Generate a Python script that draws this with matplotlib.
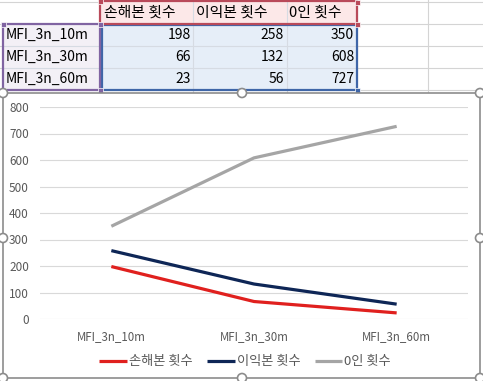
import matplotlib
matplotlib.use("Agg")
import matplotlib.pyplot as plt
from matplotlib.patches import Rectangle, Circle

plt.rcParams['font.family'] = ['Noto Sans CJK KR', 'DejaVu Sans']

# data
categories = ["MFI_3n_10m", "MFI_3n_30m", "MFI_3n_60m"]
series_names = ["손해본 횟수", "이익본 횟수", "0인 횟수"]
loss_counts = [198, 66, 23]
profit_counts = [258, 132, 56]
zero_counts = [350, 608, 727]
y_ticks = [0, 100, 200, 300, 400, 500, 600, 700, 800]

W, H = 483, 381
fig = plt.figure(figsize=(W / 100, H / 100), dpi=100)

# background: spreadsheet drawn in pixel coords
bg = fig.add_axes([0, 0, 1, 1], zorder=0)
bg.set_xlim(0, W)
bg.set_ylim(H, 0)
bg.axis("off")

col_x = [0, 100, 193, 287, 357, 428, W]
row_y = [2, 24, 46, 68, 90]
grid_c = "#d4d4d4"
for x in col_x[1:-1]:
    bg.plot([x, x], [0, 93], color=grid_c, lw=0.8, zorder=1)
for y in row_y:
    bg.plot([0, W], [y, y], color=grid_c, lw=0.8, zorder=1)

# cell fills
bg.add_patch(Rectangle((100, 2), 257, 22, facecolor="#fce8e8", edgecolor="none", zorder=2))
bg.add_patch(Rectangle((100, 24), 257, 66, facecolor="#e6eef8", edgecolor="none", zorder=2))
bg.add_patch(Rectangle((3, 24), 97, 66, facecolor="#f3f0f6", edgecolor="none", zorder=2))
for x in col_x[2:4]:
    bg.plot([x, x], [2, 90], color="#d6dbe3", lw=0.8, zorder=2.5)
for y in row_y[2:4]:
    bg.plot([3, 357], [y, y], color="#d6dbe3", lw=0.8, zorder=2.5)

# selection borders
bg.add_patch(Rectangle((100, 1), 257, 23, fill=False, edgecolor="#b94a5a", lw=1.6, zorder=4))
bg.add_patch(Rectangle((102, 25), 255, 65, fill=False, edgecolor="#3f66a8", lw=1.6, zorder=3))
bg.add_patch(Rectangle((3, 24), 97, 66, fill=False, edgecolor="#8064a2", lw=1.6, zorder=4))
for (x, y, c) in [(3, 24, "#8064a2"), (100, 24, "#8064a2"), (3, 90, "#8064a2"), (100, 90, "#8064a2"),
                  (100, 1, "#b94a5a"), (357, 2, "#b94a5a"), (357, 24, "#b94a5a"), (357, 90, "#3f66a8")]:
    bg.add_patch(Rectangle((x - 2.5, y - 2.5), 5, 5, facecolor=c, edgecolor="white", lw=0.5, zorder=5))

# cell texts
header_x = [104, 196, 289]
for name, x in zip(series_names, header_x):
    bg.text(x, 13, name, fontsize=10.7, ha="left", va="center", color="#000000", zorder=6)
row_centers = [35, 57, 79]
right_x = [191, 284, 354]
for i, cat in enumerate(categories):
    bg.text(6, row_centers[i], cat, fontsize=10, ha="left", va="center", color="#000000", zorder=6)
    for vals, x in zip([loss_counts, profit_counts, zero_counts], right_x):
        bg.text(x, row_centers[i], str(vals[i]), fontsize=10, ha="right", va="center", color="#000000", zorder=6)

# chart frame
bg.add_patch(Rectangle((3, 93), 477, 285, facecolor="white", edgecolor="#8c8c8c", lw=1.2, zorder=7))
for (x, y) in [(3, 93), (242, 93), (480, 93), (3, 238), (480, 238), (3, 378), (242, 378), (480, 378)]:
    bg.add_patch(Circle((x, y), 4.5, facecolor="white", edgecolor="#8c8c8c", lw=1.2, zorder=8))

# chart axes
left, right, top, bottom = 40, 468, 107, 319
ax = fig.add_axes([left / W, 1 - bottom / H, (right - left) / W, (bottom - top) / H], zorder=1)
ax.patch.set_alpha(0)
x = list(range(len(categories)))
ax.plot(x, loss_counts, color="#e0201e", lw=2.3, label=series_names[0], solid_capstyle="butt")
ax.plot(x, profit_counts, color="#0e2656", lw=2.3, label=series_names[1], solid_capstyle="butt")
ax.plot(x, zero_counts, color="#a5a5a5", lw=2.3, label=series_names[2], solid_capstyle="butt")
ax.set_xlim(-0.5, 2.5)
ax.set_ylim(0, 800)
ax.set_yticks(y_ticks)
ax.set_xticks(x)
ax.set_xticklabels(categories)
ax.grid(axis="y", color="#d9d9d9", lw=0.8)
ax.set_axisbelow(True)
for s in ax.spines.values():
    s.set_visible(False)
ax.tick_params(length=0, colors="#595959")
ax.tick_params(axis="y", labelsize=8.5, pad=8)
ax.tick_params(axis="x", labelsize=8.3, pad=8)

leg = ax.legend(loc="center", bbox_to_anchor=(245 / W, 1 - 362 / H), bbox_transform=fig.transFigure,
                ncol=3, frameon=False, fontsize=9.5, handlelength=2.1, handletextpad=0.15,
                columnspacing=1.1)
for t in leg.get_texts():
    t.set_color("#595959")

fig.savefig("out.png", dpi=100)
